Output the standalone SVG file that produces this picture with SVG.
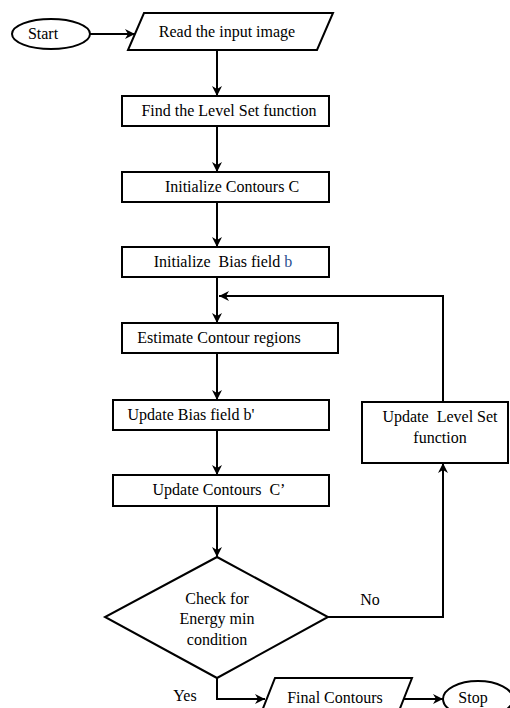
<svg xmlns="http://www.w3.org/2000/svg" width="510" height="708" viewBox="0 0 510 708">
<style>
.s{fill:#fff;stroke:#000;stroke-width:2}
.t{font-family:'Liberation Serif','Times New Roman',Tinos,'DejaVu Serif',serif;font-size:16px;fill:#000;text-anchor:middle}
.c{fill:none;stroke:#000;stroke-width:2}
</style>
<defs>
<marker id="ah" markerUnits="userSpaceOnUse" markerWidth="12" markerHeight="12" refX="11" refY="6" orient="auto">
<path d="M1,1 L11,6 L1,11 L4,6 z" fill="#000"/>
</marker>
</defs>
<rect width="510" height="708" fill="#fff"/>
<g id="connectors">
<line class="c" x1="90" y1="34" x2="135" y2="34" marker-end="url(#ah)"/>
<line class="c" x1="217" y1="50" x2="217" y2="96" marker-end="url(#ah)"/>
<line class="c" x1="217" y1="126" x2="217" y2="172" marker-end="url(#ah)"/>
<line class="c" x1="217" y1="202" x2="217" y2="247" marker-end="url(#ah)"/>
<line class="c" x1="217" y1="277" x2="217" y2="323" marker-end="url(#ah)"/>
<polyline class="c" points="443,402 443,296 219,296" marker-end="url(#ah)"/>
<line class="c" x1="217" y1="353" x2="217" y2="400" marker-end="url(#ah)"/>
<line class="c" x1="217" y1="430" x2="217" y2="475" marker-end="url(#ah)"/>
<line class="c" x1="217" y1="506" x2="217" y2="557" marker-end="url(#ah)"/>
<polyline class="c" points="328,617 443,617 443,463" marker-end="url(#ah)"/>
<polyline class="c" points="217,678 217,699 265,699" marker-end="url(#ah)"/>
<line class="c" x1="404" y1="699" x2="443" y2="699" marker-end="url(#ah)"/>
</g>
<g id="start">
<ellipse class="s" cx="51" cy="34" rx="39" ry="15"/>
<text class="t" x="43" y="39">Start</text>
</g>
<g id="read">
<polygon class="s" points="144,13 333,13 317,50 128,50"/>
<text class="t" x="227" y="37">Read the input image</text>
</g>
<g id="find">
<rect class="s" x="122" y="96" width="207" height="30"/>
<text class="t" x="229" y="116">Find the Level Set function</text>
</g>
<g id="initc">
<rect class="s" x="122" y="172" width="207" height="30"/>
<text class="t" x="232" y="192">Initialize Contours C</text>
</g>
<g id="initb">
<rect class="s" x="122" y="247" width="207" height="30"/>
<text class="t" x="223" y="267" xml:space="preserve">Initialize  Bias field <tspan fill="#2a4f8f">b</tspan></text>
</g>
<g id="estimate">
<rect class="s" x="122" y="323" width="216" height="30"/>
<text class="t" x="219" y="343">Estimate Contour regions</text>
</g>
<g id="updb">
<rect class="s" x="113" y="400" width="216" height="30"/>
<text class="t" x="191" y="420">Update Bias field b'</text>
</g>
<g id="updc">
<rect class="s" x="113" y="475" width="216" height="31"/>
<text class="t" x="219" y="495" xml:space="preserve">Update Contours  C’</text>
</g>
<g id="updls">
<rect class="s" x="362" y="402" width="146" height="61"/>
<text class="t" x="440" y="422" xml:space="preserve">Update  Level Set</text>
<text class="t" x="440" y="443">function</text>
</g>
<g id="check">
<polygon class="s" points="217,557 328,617 217,678 105,617"/>
<text class="t" x="217" y="604">Check for</text>
<text class="t" x="217" y="624">Energy min</text>
<text class="t" x="217" y="645">condition</text>
</g>
<g id="labels">
<text class="t" x="370" y="605">No</text>
<text class="t" x="185" y="701">Yes</text>
</g>
<g id="final">
<polygon class="s" points="275,678 412,678 397,716 260,716"/>
<text class="t" x="335" y="703">Final Contours</text>
</g>
<g id="stop">
<ellipse class="s" cx="478" cy="699" rx="35" ry="18"/>
<text class="t" x="473" y="703">Stop</text>
</g>
</svg>
